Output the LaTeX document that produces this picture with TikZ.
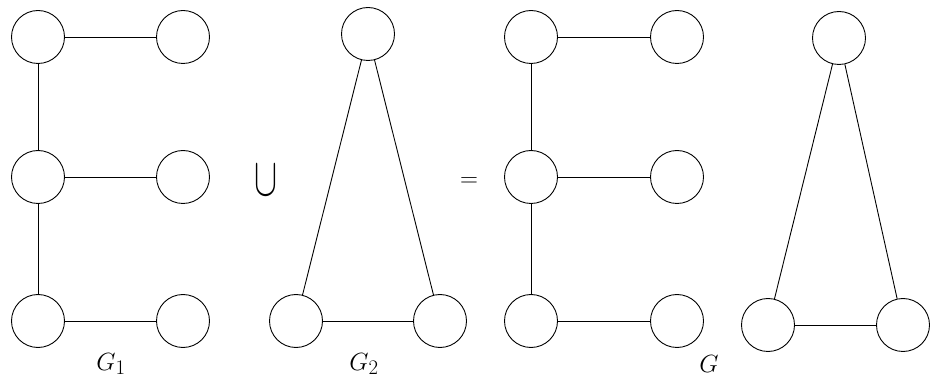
\documentclass[tikz,border=0pt]{standalone}
\usepackage{graphicx}
\begin{document}
\begin{tikzpicture}[x=1pt,y=-1pt,
  vtx/.style={draw,circle,minimum size=53pt,inner sep=0pt,line width=0.9pt},
  edge/.style={line width=0.9pt},
  lbl/.style={font=\fontsize{31}{36}\selectfont,inner sep=0pt}]
\useasboundingbox (0,0) rectangle (930,382);
% G1
\node[vtx] (a1) at (38,37) {};
\node[vtx] (a2) at (183,37) {};
\node[vtx] (a3) at (38,177) {};
\node[vtx] (a4) at (183,177) {};
\node[vtx] (a5) at (38,321) {};
\node[vtx] (a6) at (183,321) {};
\draw[edge] (a1) -- (a2);
\draw[edge] (a1) -- (a3);
\draw[edge] (a3) -- (a4);
\draw[edge] (a3) -- (a5);
\draw[edge] (a5) -- (a6);
\node[lbl] (l1) at (111,364) {$G_1$};
% union
\node[inner sep=0pt] (cup) at (266,180) {\resizebox{23pt}{30pt}{$\cup$}};
% G2
\node[vtx] (b1) at (368,34) {};
\node[vtx] (b2) at (296,321) {};
\node[vtx] (b3) at (440,321) {};
\draw[edge] (b1) -- (b2);
\draw[edge] (b1) -- (b3);
\draw[edge] (b2) -- (b3);
\node[lbl] (l2) at (364,364) {$G_2$};
% equals
\node[lbl] (eq) at (469,182) {$=$};
% G
\node[vtx] (c1) at (531,37) {};
\node[vtx] (c2) at (677,37) {};
\node[vtx] (c3) at (531,177) {};
\node[vtx] (c4) at (677,177) {};
\node[vtx] (c5) at (531,321) {};
\node[vtx] (c6) at (677,321) {};
\draw[edge] (c1) -- (c2);
\draw[edge] (c1) -- (c3);
\draw[edge] (c3) -- (c4);
\draw[edge] (c3) -- (c5);
\draw[edge] (c5) -- (c6);
\node[lbl] (l3) at (709,364) {$G$};
% second triangle
\node[vtx] (d1) at (839,38) {};
\node[vtx] (d2) at (768,325) {};
\node[vtx] (d3) at (903,325) {};
\draw[edge] (d1) -- (d2);
\draw[edge] (d1) -- (d3);
\draw[edge] (d2) -- (d3);
\end{tikzpicture}
\end{document}
